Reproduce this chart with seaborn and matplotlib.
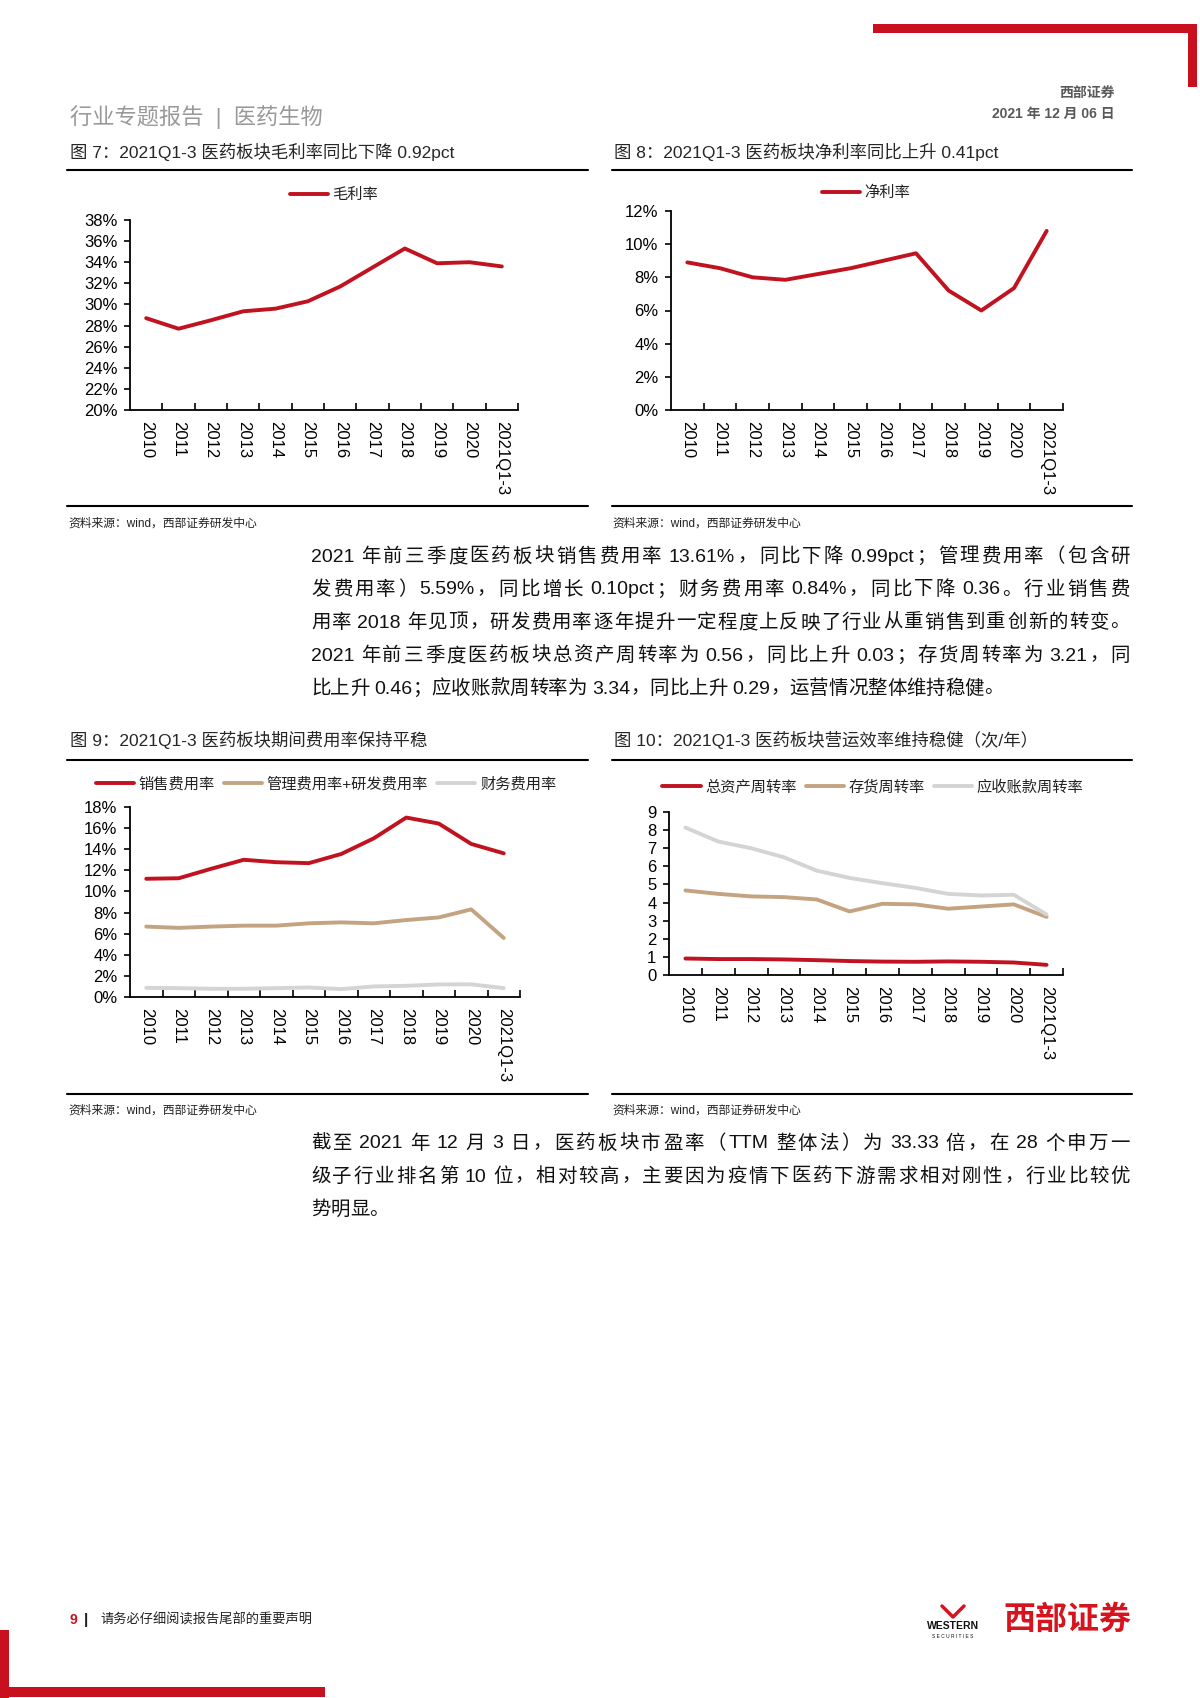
import re
import numpy as np
import matplotlib
matplotlib.use('Agg')
import matplotlib.pyplot as plt
import seaborn as sns
from matplotlib.patches import Rectangle
from matplotlib.lines import Line2D

# ---- data ----
years = ['2010', '2011', '2012', '2013', '2014', '2015', '2016', '2017',
         '2018', '2019', '2020', '2021Q1-3']
gross_margin = [28.7, 27.7, 28.5, 29.35, 29.6, 30.3, 31.7, 33.5, 35.3, 33.9, 34.0, 33.6]
net_margin = [8.9, 8.55, 8.0, 7.85, 8.2, 8.55, 9.0, 9.45, 7.2, 6.0, 7.35, 10.8]
sales_exp = [11.2, 11.25, 12.15, 13.0, 12.77, 12.68, 13.55, 15.03, 17.0, 16.43, 14.5, 13.61]
admin_rd_exp = [6.67, 6.55, 6.67, 6.76, 6.76, 6.98, 7.07, 6.98, 7.29, 7.54, 8.3, 5.59]
fin_exp = [0.87, 0.84, 0.78, 0.78, 0.84, 0.9, 0.75, 1.0, 1.06, 1.19, 1.2, 0.84]
asset_turn = [0.91, 0.88, 0.88, 0.86, 0.82, 0.77, 0.74, 0.73, 0.75, 0.73, 0.69, 0.56]
inventory_turn = [4.67, 4.48, 4.34, 4.30, 4.17, 3.51, 3.93, 3.90, 3.66, 3.78, 3.90, 3.21]
receivable_turn = [8.14, 7.37, 7.0, 6.5, 5.76, 5.36, 5.07, 4.81, 4.48, 4.39, 4.43, 3.34]

RED = '#C1121F'
TAN = '#C4A381'
GRAY = '#D4D4D4'
PAGE_RED = '#C8101E'

sns.set_theme(style='white')
plt.rcParams['font.family'] = ['Liberation Sans', 'Noto Sans CJK SC', 'DejaVu Sans']
plt.rcParams['axes.unicode_minus'] = False

W, H = 1200, 1698
fig = plt.figure(figsize=(12, 16.98), dpi=100)
fig.patch.set_facecolor('white')


def fx(x):
    return x / W


def fy(y):
    return 1 - y / H


def hline(x0, x1, y, lw=1.5, color='black'):
    fig.add_artist(Line2D([fx(x0), fx(x1)], [fy(y), fy(y)], transform=fig.transFigure,
                          lw=lw, color=color))


def rect(x0, y0, x1, y1, color):
    fig.add_artist(Rectangle((fx(x0), fy(y1)), (x1 - x0) / W, (y1 - y0) / H,
                             transform=fig.transFigure, color=color, lw=0))


def line_chart(box, series, ylim, step, pct, legend_xy):
    l, t, r, b = box
    ax = fig.add_axes([fx(l), fy(b), (r - l) / W, (b - t) / H])
    x = np.arange(len(years))
    for name, vals, color in series:
        sns.lineplot(x=x, y=vals, ax=ax, color=color, lw=2.8, label=name)
    ax.set_xlim(-0.5, len(years) - 0.5)
    ax.set_ylim(*ylim)
    yt = np.arange(ylim[0], ylim[1] + step / 2, step)
    ax.set_yticks(yt)
    ax.set_yticklabels([f'{v:.0f}%' if pct else f'{v:.0f}' for v in yt])
    ax.set_xticks(x)
    ax.set_xticklabels(years, rotation=-90, ha='center', va='top')
    ax.set_xticks(np.arange(0.5, len(years), 1), minor=True)
    ax.tick_params(axis='x', which='major', length=0, pad=8, labelsize=12)
    ax.tick_params(axis='x', which='minor', bottom=True, direction='in', length=5, width=1.2,
                   color='black')
    ax.tick_params(axis='y', which='major', left=True, direction='out', length=4, width=1.2,
                   pad=5, labelsize=12, color='black')
    for lab in ax.get_xticklabels() + ax.get_yticklabels():
        lab.set_color('black')
    ax.spines[['top', 'right']].set_visible(False)
    for s in ('left', 'bottom'):
        ax.spines[s].set_color('black')
        ax.spines[s].set_linewidth(1.3)
    ax.set_xlabel('')
    ax.set_ylabel('')
    ax.grid(False)
    ax.set_facecolor('white')
    leg = ax.legend(loc='center', bbox_to_anchor=(fx(legend_xy[0]), fy(legend_xy[1])),
                    bbox_transform=fig.transFigure, ncol=len(series), frameon=False,
                    fontsize=11, handlelength=2.5, handletextpad=0.3, columnspacing=0.6,
                    borderpad=0, borderaxespad=0)
    for txt in leg.get_texts():
        txt.set_color('#222222')
    return ax


# ---- page decorations ----
rect(873, 24, 1197, 33, PAGE_RED)
rect(1188, 24, 1197, 87, PAGE_RED)
rect(0, 1630, 9, 1698, PAGE_RED)
rect(0, 1687, 325, 1697, PAGE_RED)

fig.text(fx(70), fy(117), '行业专题报告  |  医药生物', fontsize=16, color='#999999', va='center')
fig.text(fx(1115), fy(93), '西部证券', fontsize=10, color='#595959', fontweight='bold',
         ha='right', va='center')
fig.text(fx(1115), fy(114), '2021 年 12 月 06 日', fontsize=10, color='#595959',
         fontweight='bold', ha='right', va='center')

# captions and rules
fig.text(fx(70), fy(152), '图 7：2021Q1-3 医药板块毛利率同比下降 0.92pct', fontsize=12.5, va='center')
fig.text(fx(614), fy(152), '图 8：2021Q1-3 医药板块净利率同比上升 0.41pct', fontsize=12.5, va='center')
fig.text(fx(70), fy(740), '图 9：2021Q1-3 医药板块期间费用率保持平稳', fontsize=12.5, va='center')
fig.text(fx(614), fy(740), '图 10：2021Q1-3 医药板块营运效率维持稳健（次/年）', fontsize=12.5, va='center')
for y in (170, 506, 760, 1094):
    hline(67, 588, y)
    hline(612, 1132, y)
src = '资料来源：wind，西部证券研发中心'
for x, y in ((68, 524), (612, 524), (68, 1111), (612, 1111)):
    fig.text(fx(x), fy(y), src, fontsize=8.5, va='center', color='#222222')

# ---- the four charts ----
line_chart((130, 220, 518, 410), [('毛利率', gross_margin, RED)], (20, 38), 2, True, (334, 195))
line_chart((671, 211, 1063, 410), [('净利率', net_margin, RED)], (0, 12), 2, True, (866, 193))
line_chart((130, 807, 520, 997),
           [('销售费用率', sales_exp, RED), ('管理费用率+研发费用率', admin_rd_exp, TAN),
            ('财务费用率', fin_exp, GRAY)], (0, 18), 2, True, (326, 784))
line_chart((669, 812, 1063, 975),
           [('总资产周转率', asset_turn, RED), ('存货周转率', inventory_turn, TAN),
            ('应收账款周转率', receivable_turn, GRAY)], (0, 9), 1, False, (873, 787))

# ---- body text, justified by hand ----
para1 = ['2021 年前三季度医药板块销售费用率 13.61%，同比下降 0.99pct；管理费用率（包含研',
         '发费用率）5.59%，同比增长 0.10pct；财务费用率 0.84%，同比下降 0.36。行业销售费',
         '用率 2018 年见顶，研发费用率逐年提升一定程度上反映了行业从重销售到重创新的转变。',
         '2021 年前三季度医药板块总资产周转率为 0.56，同比上升 0.03；存货周转率为 3.21，同',
         '比上升 0.46；应收账款周转率为 3.34，同比上升 0.29，运营情况整体维持稳健。']
para2 = ['截至 2021 年 12 月 3 日，医药板块市盈率（TTM 整体法）为 33.33 倍，在 28 个申万一',
         '级子行业排名第 10 位，相对较高，主要因为疫情下医药下游需求相对刚性，行业比较优',
         '势明显。']

pieces = []


def add_para(lines, y0, dy=33, x0=311, x1=1130, size=14):
    for i, line in enumerate(lines):
        toks = re.findall(r'[A-Za-z0-9.%/\-]+| |.', line)
        objs = []
        for tk in toks:
            if tk == ' ':
                objs.append((tk, None))
            else:
                objs.append((tk, fig.text(0, fy(y0 + i * dy), tk, fontsize=size,
                                          va='center', ha='left', color='#111111')))
        pieces.append((objs, x0, x1, size, i == len(lines) - 1))


add_para(para1, 557)
add_para(para2, 1144)

# footer
fig.text(fx(70), fy(1620), '9', fontsize=10, color=PAGE_RED, fontweight='bold', va='center')
fig.text(fx(84), fy(1620), '|', fontsize=11, color='#222222', fontweight='bold', va='center')
fig.text(fx(100), fy(1620), '请务必仔细阅读报告尾部的重要声明', fontsize=9.5, color='#222222', va='center')
fig.text(fx(1003), fy(1621), '西部证券', fontsize=23, color='#D7141E', fontweight='bold', va='center')
fig.text(fx(953), fy(1626), 'WESTERN', fontsize=7.5, color='#111111', fontweight='bold',
         ha='center', va='center')
fig.text(fx(953), fy(1636), 'S E C U R I T I E S', fontsize=3.5, color='#111111',
         ha='center', va='center')
fig.add_artist(Line2D([fx(942), fx(953), fx(964)], [fy(1606), fy(1617), fy(1606)],
                      transform=fig.transFigure, lw=2.5, color='#D7141E'))

fig.canvas.draw()
renderer = fig.canvas.get_renderer()
for objs, x0, x1, size, last in pieces:
    em = size * 100 / 72
    widths = []
    for tk, o in objs:
        if o is None:
            widths.append(em * 0.25)
        elif len(tk) == 1 and ord(tk) > 0x2000:
            widths.append(em)
        else:
            widths.append(o.get_window_extent(renderer).width)
    # spaces don't get extra stretch; spread the slack over the other glyph gaps
    n_gaps = sum(1 for tk, o in objs if o is not None) - 1
    gap = 0 if last else (x1 - x0 - sum(widths)) / max(n_gaps, 1)
    x = x0
    for i, ((tk, o), w) in enumerate(zip(objs, widths)):
        if o is not None:
            o.set_x(fx(x))
        x += w
        if o is not None and i + 1 < len(objs):
            x += gap

fig.savefig('out.png', dpi=100, facecolor='white')
